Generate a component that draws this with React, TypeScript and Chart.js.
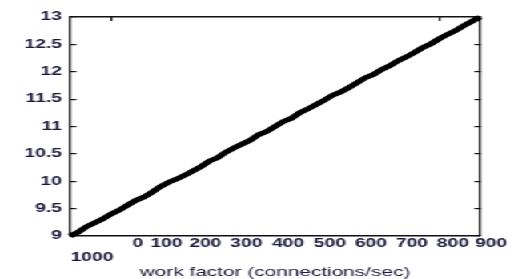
import React, { useEffect, useRef } from "react";
import { Chart, registerables } from "chart.js";

Chart.register(...registerables);

// ---- data ----
const workFactor = [
  1000, 1020, 1040, 1060, 1080, 1100, 1120, 1140, 1160, 1180,
  1200, 1220, 1240, 1260, 1280, 1300, 1320, 1340, 1360, 1380,
  1400, 1420, 1440, 1460, 1480, 1500, 1520, 1540, 1560, 1580,
  1600, 1620, 1640, 1660, 1680, 1700, 1720, 1740, 1760, 1780,
  1800, 1820, 1840, 1860, 1880, 1900, 1920, 1940, 1960, 1980,
  2000,
];
const throughput = [
  9.0, 9.07, 9.17, 9.24, 9.31, 9.4, 9.47, 9.56, 9.65, 9.71,
  9.8, 9.9, 9.98, 10.04, 10.11, 10.19, 10.27, 10.37, 10.43, 10.53,
  10.61, 10.68, 10.75, 10.85, 10.91, 11.0, 11.09, 11.15, 11.25, 11.32,
  11.4, 11.48, 11.57, 11.63, 11.71, 11.8, 11.89, 11.95, 12.04, 12.11,
  12.2, 12.27, 12.35, 12.44, 12.51, 12.6, 12.68, 12.75, 12.84, 12.92,
  13.0,
];
const yMin = 9;
const yMax = 13;
const yStep = 0.5;
const xMin = 1000;
const xMax = 2000;
const xTickValues = [1054, 1165, 1235, 1330, 1430, 1532, 1634, 1734, 1834, 1934, 2027];
const xTickLabels = ["1000", "0", "100", "200", "300", "400", "500", "600", "700", "800", "900"];
const topTickValues = [1100, 1900];
const xTitle = "work factor (connections/sec)";

// ---- layout ----
const W = 321;
const H = 279;
const STRETCH = 514 / W;
const FONT = "'Liberation Sans', Arial, sans-serif";
const TEXT = "#1a1a3c";
const LINE = "#111111";

export default function App() {
  const ref = useRef<HTMLCanvasElement>(null);

  useEffect(() => {
    Chart.defaults.font.family = FONT;
    const chart = new Chart(ref.current as HTMLCanvasElement, {
      type: "line",
      data: {
        datasets: [
          {
            data: workFactor.map((x, i) => ({ x, y: throughput[i] })),
            borderColor: "#000",
            borderWidth: 4.8,
            pointRadius: 0,
            tension: 0,
            fill: false,
            clip: 10,
            xAxisID: "x",
            yAxisID: "y",
          },
        ],
      },
      options: {
        responsive: false,
        animation: false,
        events: [],
        layout: { padding: { left: 0, top: 17, right: W - 480 / STRETCH, bottom: 0 } },
        plugins: { legend: { display: false }, tooltip: { enabled: false } },
        scales: {
          x: {
            type: "linear",
            position: "bottom",
            min: xMin,
            max: xMax,
            afterBuildTicks: (s: any) => {
              s.ticks = xTickValues.map((v) => ({ value: v }));
            },
            afterFit: (s: any) => {
              s.height = 43;
            },
            grid: { display: false },
            border: { display: true, color: LINE, width: 1.6 },
            ticks: {
              autoSkip: false,
              maxRotation: 0,
              minRotation: 0,
              padding: -6.6,
              color: TEXT,
              font: { size: 12, family: FONT, weight: "bold", lineHeight: 1.1 },
              callback: (_v: any, i: number) => (i === 0 ? ["", xTickLabels[0]] : xTickLabels[i]),
            },
            title: {
              display: true,
              text: xTitle,
              color: TEXT,
              font: { size: 13, family: FONT, weight: "normal" },
              padding: { top: 0, bottom: -1 },
            },
          },
          x2: {
            type: "linear",
            position: "top",
            min: xMin,
            max: xMax,
            afterBuildTicks: (s: any) => {
              s.ticks = topTickValues.map((v) => ({ value: v }));
            },
            afterFit: (s: any) => {
              s.height = 0;
            },
            ticks: { display: false },
            grid: { drawOnChartArea: false, drawTicks: true, tickLength: -4, color: LINE, lineWidth: 1.2 },
            border: { display: true, color: LINE, width: 1.6 },
          },
          y: {
            type: "linear",
            position: "left",
            min: yMin,
            max: yMax,
            afterFit: (s: any) => {
              s.width = 70 / STRETCH;
            },
            ticks: {
              stepSize: yStep,
              padding: 9,
              color: TEXT,
              font: { size: 12, family: FONT, weight: "bold" },
              callback: (v: any) => String(v),
            },
            grid: { drawOnChartArea: false, drawTicks: true, tickLength: -4, color: LINE, lineWidth: 1.2 },
            border: { display: true, color: LINE, width: 1.3 },
          },
          y2: {
            type: "linear",
            position: "right",
            min: yMin,
            max: yMax,
            afterFit: (s: any) => {
              s.width = 0;
            },
            ticks: { display: false, stepSize: yStep },
            grid: { drawOnChartArea: false, drawTicks: true, tickLength: -3.5, color: LINE, lineWidth: 1.2 },
            border: { display: true, color: LINE, width: 1.3 },
          },
        },
      },
    } as any);
    return () => chart.destroy();
  }, []);

  return (
    <div
      style={{
        position: "fixed",
        left: 0,
        top: 0,
        width: W,
        height: H,
        transform: `scaleX(${STRETCH})`,
        transformOrigin: "0 0",
        background: "#fff",
      }}
    >
      <canvas ref={ref} width={W} height={H} style={{ display: "block" }} />
    </div>
  );
}
